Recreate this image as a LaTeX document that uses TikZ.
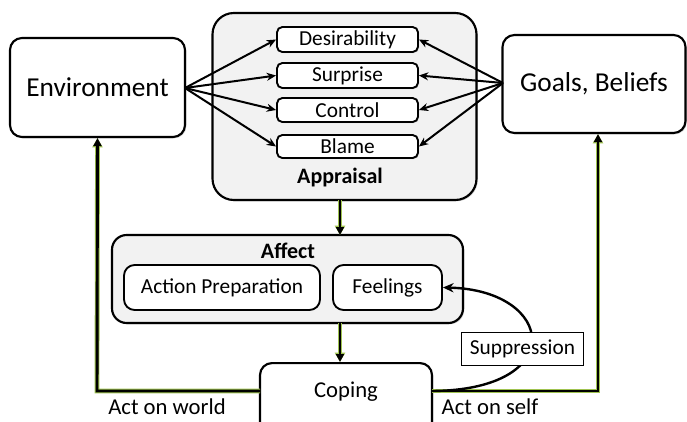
\documentclass[tikz,border=0pt]{standalone}
\usepackage{fontspec}
\setmainfont{Carlito}
\usetikzlibrary{arrows.meta,shadows}
\definecolor{panel}{RGB}{242,242,242}
\definecolor{glow}{RGB}{160,195,80}
\tikzset{
  bigbox/.style={draw=black,line width=1.6pt,rounded corners=9pt,fill=white,
    drop shadow={shadow xshift=1pt,shadow yshift=-1pt,opacity=0.35}},
  panelbox/.style={draw=black,line width=1.6pt,rounded corners=16pt,fill=panel,
    drop shadow={shadow xshift=1pt,shadow yshift=-1pt,opacity=0.35}},
  smallbox/.style={draw=black,line width=1.4pt,rounded corners=4pt,fill=white,inner sep=0pt,
    drop shadow={shadow xshift=0.8pt,shadow yshift=-0.8pt,opacity=0.3}},
  midbox/.style={draw=black,line width=1.4pt,rounded corners=8pt,fill=white,inner sep=0pt},
  thinarrow/.style={line width=1.5pt,-{Stealth[length=7pt,width=6pt]}},
  glowline/.style={line width=3.6pt,glow},
  flowline/.style={line width=2.2pt,black},
  lbl/.style={font=\fontsize{16}{18}\selectfont},
  biglbl/.style={font=\fontsize{20.5}{24}\selectfont},
  boldlbl/.style={font=\bfseries\fontsize{16.5}{19}\selectfont},
}
\begin{document}
\begin{tikzpicture}[x=0.75pt,y=-0.75pt]
\useasboundingbox (0,0) rectangle (687,422);
% main boxes
\node[bigbox,minimum width=131.25pt,minimum height=74.25pt,biglbl] (env) at (97.5,87.5) {Environment};
\node[bigbox,minimum width=137.25pt,minimum height=73.5pt,biglbl] (goals) at (594,84) {Goals, Beliefs};
% appraisal panel
\node[panelbox,minimum width=198pt,minimum height=140.25pt] (appr) at (344.5,106.5) {};
\node[boldlbl] (apprl) at (340,178) {Appraisal};
\node[smallbox,minimum width=105.75pt,minimum height=18.75pt,lbl] (des) at (347.5,39.5) {Desirability};
\node[smallbox,minimum width=105.75pt,minimum height=18.75pt,lbl] (sur) at (347.5,75.5) {Surprise};
\node[smallbox,minimum width=105.75pt,minimum height=18pt,lbl] (con) at (347.5,110) {Control};
\node[smallbox,minimum width=105.75pt,minimum height=17.25pt,lbl] (bla) at (347.5,146.5) {Blame};
% affect panel
\node[panelbox,rounded corners=11pt,minimum width=263.25pt,minimum height=66pt] (aff) at (287.5,279) {};
\node[boldlbl] (affl) at (288,251) {Affect};
\node[midbox,minimum width=147pt,minimum height=33.75pt,lbl] (ap) at (222,287.5) {Action Preparation};
\node[midbox,minimum width=81.75pt,minimum height=33.75pt,lbl] (feel) at (387.5,287.5) {Feelings};
% coping
\node[bigbox,minimum width=129pt,minimum height=60pt,anchor=north] (cop) at (346,362) {};
\node[font=\fontsize{17}{20}\selectfont] (copl) at (346,392) {Coping};
% appraisal arrows
\coordinate (envr) at (185,88);
\coordinate (goall) at (503,83);
\foreach \b in {des,sur,con,bla}{
  \draw[thinarrow] (envr) -- (\b.west);
  \draw[thinarrow] (goall) -- (\b.east);
}
% flow arrows with glow
\coordinate (a1) at (340,200);
\coordinate (a2) at (340,235);
\coordinate (b1) at (340,323);
\coordinate (b2) at (340,362);
\foreach \s/\e in {a1/a2,b1/b2}{
  \draw[glowline,-{Triangle[length=7pt,width=7.5pt]}] (\s) -- (\e);
  \draw[flowline,-{Triangle[length=6pt,width=6pt]}] (\s) -- (\e);
}
\coordinate (cw) at (260,391);
\coordinate (ce) at (432,391);
\coordinate (wc) at (97,391);
\coordinate (sc) at (598,391);
\draw[glowline,-{Triangle[length=7pt,width=7.5pt]}] (cw) -- (wc) -- (env.south);
\draw[flowline,-{Triangle[length=6pt,width=6pt]}] (cw) -- (wc) -- (env.south);
\draw[glowline,-{Triangle[length=7pt,width=7.5pt]}] (ce) -- (sc) -- (sc |- goals.south);
\draw[flowline,-{Triangle[length=6pt,width=6pt]}] (ce) -- (sc) -- (sc |- goals.south);
% suppression
\draw[line width=1.8pt,-{Stealth[length=8pt,width=7pt]}] (ce) .. controls (570,390) and (555,290) .. (feel.east);
\node[draw=black,line width=0.6pt,fill=white,minimum width=92pt,minimum height=24.75pt,inner sep=0pt,lbl] (sup) at (522.5,348.5) {Suppression};
% labels
\node[font=\fontsize{17}{20}\selectfont] (aw) at (167,407) {Act on world};
\node[font=\fontsize{17}{20}\selectfont] (as) at (490,407) {Act on self};
\end{tikzpicture}
\end{document}
